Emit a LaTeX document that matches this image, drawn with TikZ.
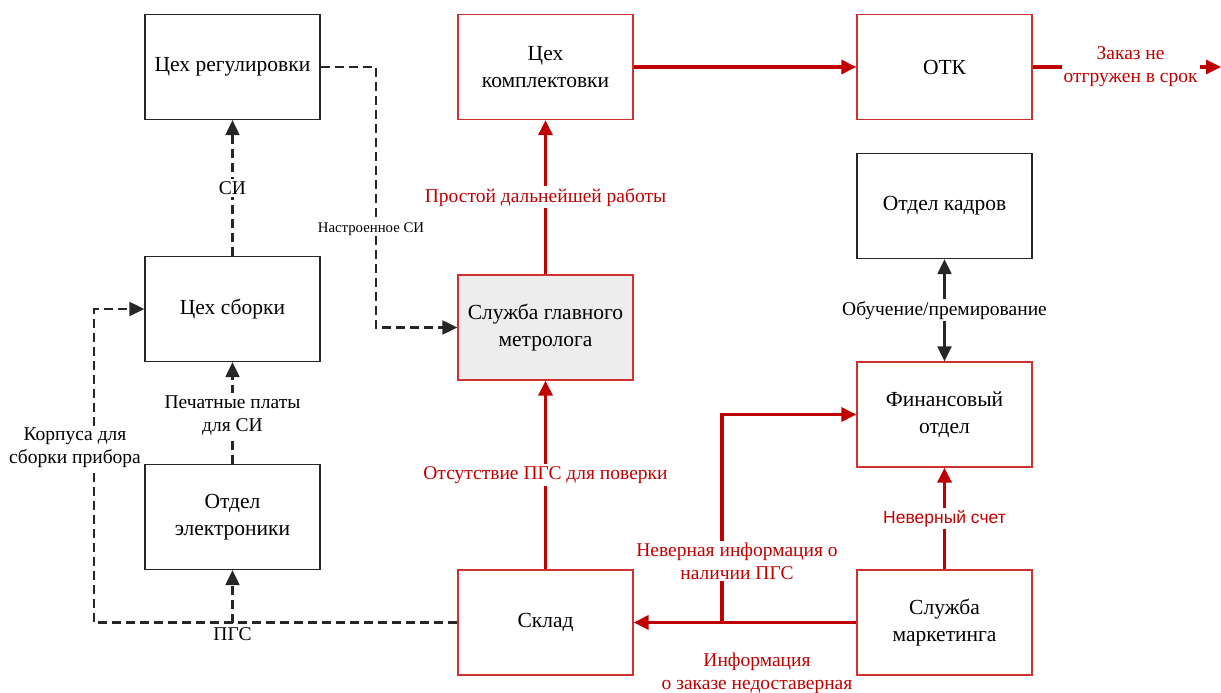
\documentclass[tikz,border=0pt]{standalone}
\usepackage{fontspec}
\setmainfont{Liberation Serif}
\newfontfamily\sansf{Liberation Sans}
\usetikzlibrary{arrows.meta}
\definecolor{rd}{HTML}{C00000}
\definecolor{rdb}{HTML}{D03030}
\definecolor{gfill}{HTML}{EDEDED}
\begin{document}
\begin{tikzpicture}[x=1pt,y=-1pt,
  box/.style={draw=black!85, line width=1.3pt, fill=white, minimum width=175pt, minimum height=105pt,
    align=center, font=\fontsize{21.5}{27}\selectfont, inner sep=2pt},
  rbox/.style={box, draw=rdb},
  dline/.style={draw=black!85, line width=2.1pt, dash pattern=on 9pt off 5pt},
  rline/.style={draw=rd, line width=3.2pt},
  tip/.style={-{Triangle[length=15pt,width=14pt]}},
  lbl/.style={fill=white, inner sep=2pt, align=center, font=\fontsize{19.5}{23}\selectfont},
  rlbl/.style={lbl, text=rd}]
\useasboundingbox (0,0) rectangle (1221,693);

% boxes
\node[box]  (reg)   at (232.5,67)   {Цех регулировки};
\node[rbox] (kompl) at (545.5,67)   {Цех\\комплектовки};
\node[rbox] (otk)   at (944.5,67)   {ОТК};
\node[box]  (kadr)  at (944.5,206)  {Отдел кадров};
\node[box]  (sbork) at (232.5,309)  {Цех сборки};
\node[rbox, fill=gfill] (metr) at (545.5,327.5) {Служба главного\\метролога};
\node[rbox] (fin)   at (944.5,414.5) {Финансовый\\отдел};
\node[box]  (elek)  at (232.5,517)  {Отдел\\электроники};
\node[rbox] (sklad) at (545.5,622.5) {Склад};
\node[rbox] (mark)  at (944.5,622.5) {Служба\\маркетинга};

% black dashed connectors
\draw[dline,tip] (reg.east) -- ++(55,0) |- (metr.west);
\node[lbl, font=\fontsize{14.8}{18}\selectfont, inner sep=1pt] (lnast) at (371,229) {Настроенное СИ};
\draw[dline,tip] (sbork.north) -- (reg.south) node[midway,lbl] (lsi) {СИ};
\draw[dline,tip] (elek.north) -- (sbork.south) node[midway,lbl,yshift=-2pt] (lpp) {Печатные платы\\для СИ};
\coordinate (kx) at ([xshift=-50pt]sbork.west);
\draw[dline,tip] (sklad.west) -| (kx) -- (sbork.west);
\node[lbl] (lkorp) at (75,448) {Корпуса для\\сборки прибора};
\coordinate (pgs) at (elek.south |- sklad.west);
\draw[dline,tip] (pgs) -- (elek.south);
\node[lbl, anchor=north, inner sep=1pt] (lpgs) at ([yshift=-4pt]pgs) {ПГС};

% red connectors
\draw[rline,tip] (sklad.north) -- (metr.south) node[midway,rlbl] (lots) {Отсутствие ПГС для поверки};
\draw[rline,tip] (metr.north) -- (kompl.south) node[midway,rlbl] (lpros) {Простой дальнейшей работы};
\draw[rline,tip] (kompl.east) -- (otk.west);
\coordinate (out) at (1221,67);
\draw[rline,tip] (otk.east) -- (out) node[pos=0.52,rlbl] (lzak) {Заказ не\\отгружен в срок};
\draw[rline,tip] (mark.west) -- (sklad.east);
\node[rlbl, fill=none, inner sep=0pt] (linf) at (757,673) {Информация\\о заказе недоставерная};
\coordinate (br) at (722,622.5);
\draw[rline,tip] (br) |- (fin.west);
\node[rlbl] (lnev) at (737,561) {Неверная информация о\\наличии ПГС};
\draw[rline,tip] (mark.north) -- (fin.south) node[midway,rlbl,font=\sansf\fontsize{17.5}{21}\selectfont] (lsch) {Неверный счет};

% black solid double arrow
\draw[draw=black!85, line width=2.2pt, {Triangle[length=15pt,width=14pt]}-{Triangle[length=15pt,width=14pt]}] (fin.north) -- (kadr.south) node[midway,lbl] (lobuch) {Обучение/премирование};
\end{tikzpicture}
\end{document}
